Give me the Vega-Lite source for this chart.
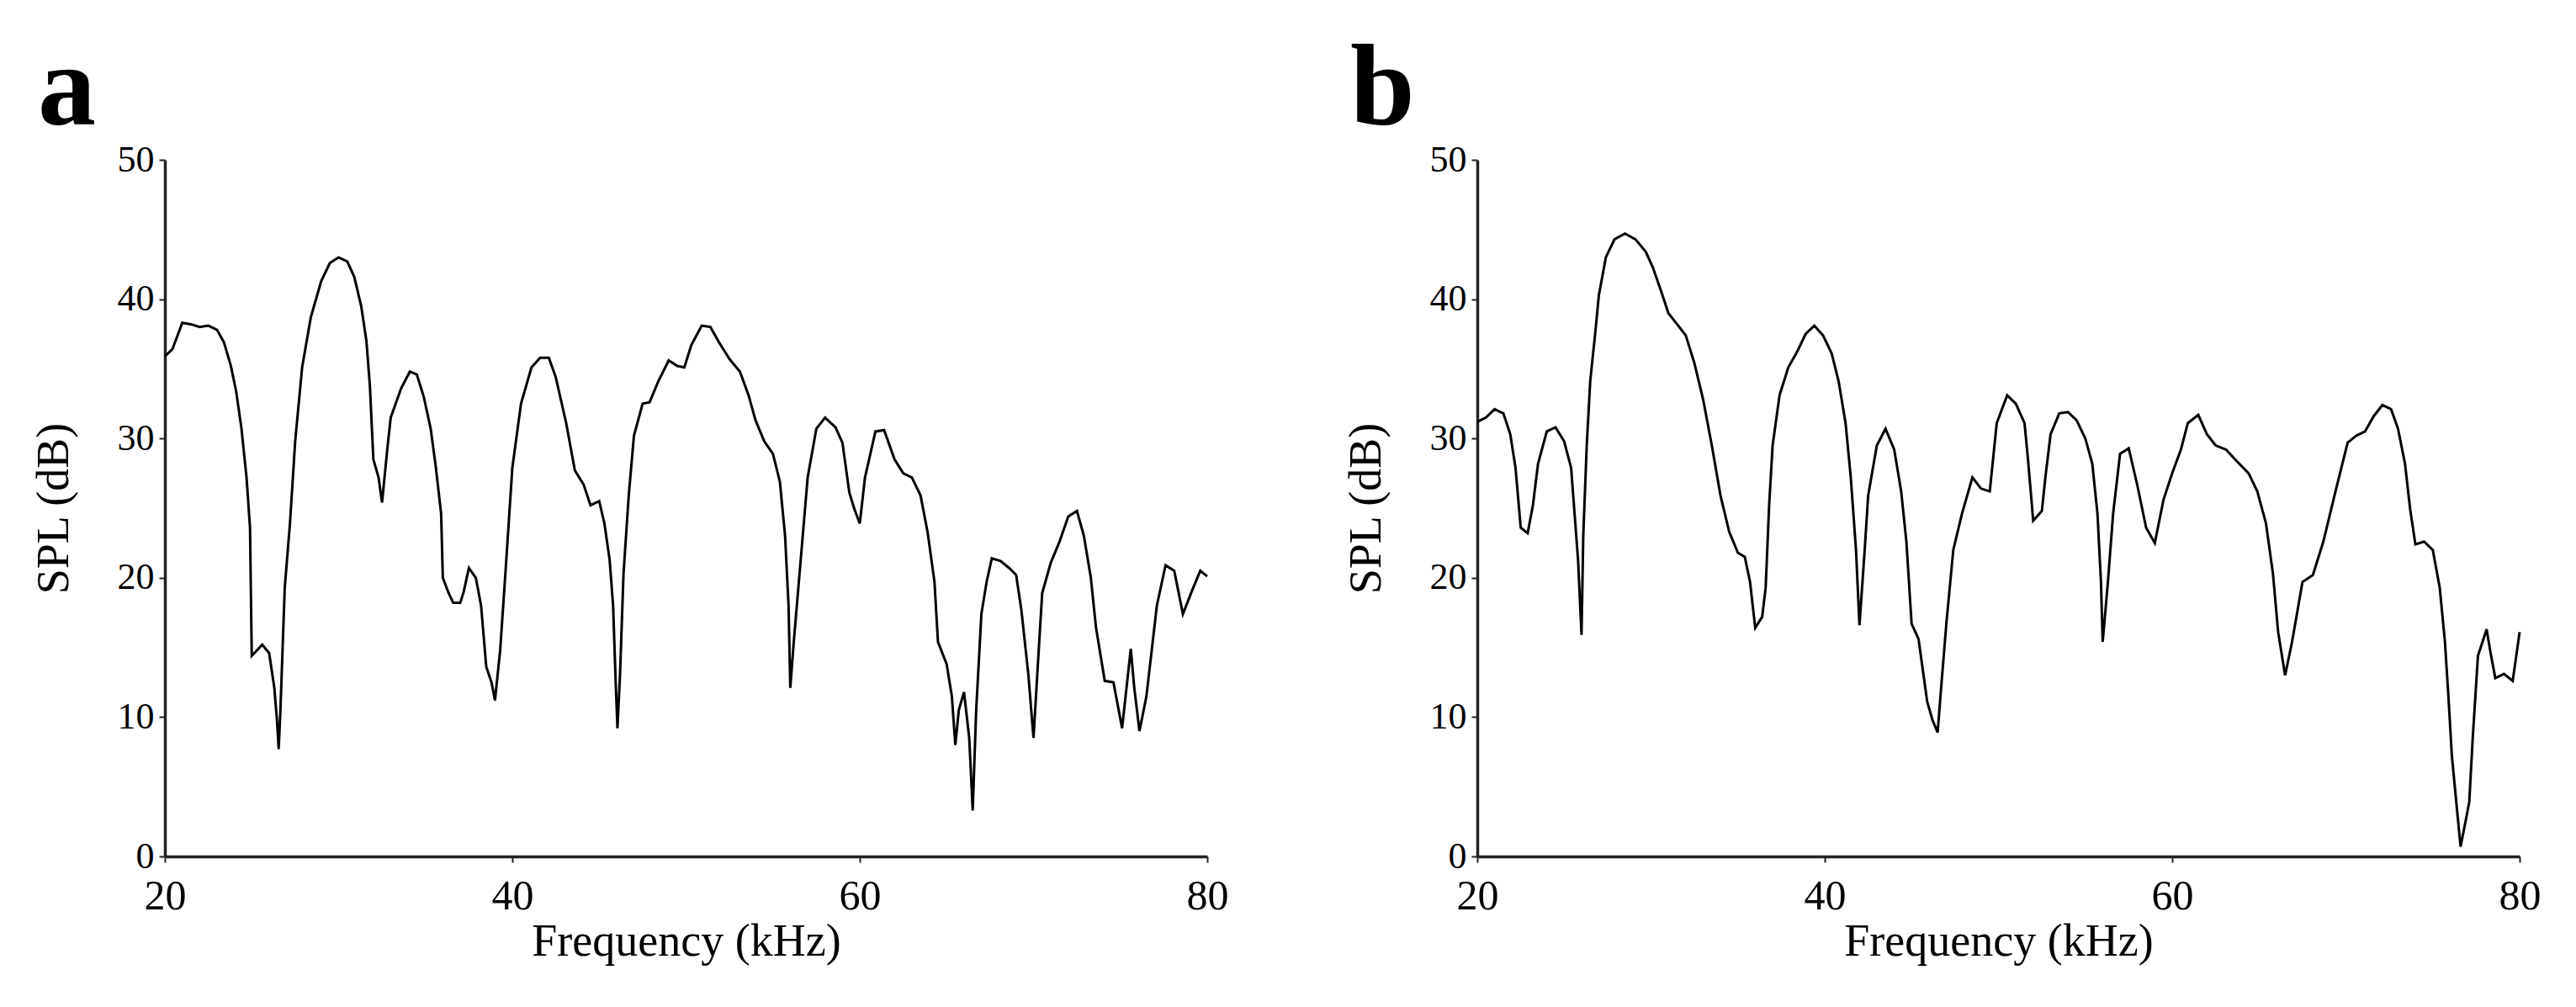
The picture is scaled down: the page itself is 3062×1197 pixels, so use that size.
{
  "$schema": "https://vega.github.io/schema/vega-lite/v6.json",
  "background": "white",
  "padding": {"left": 37, "top": 38, "right": 10, "bottom": 10},
  "spacing": 321,
  "bounds": "flush",
  "config": {
    "view": {"stroke": null},
    "font": "Liberation Serif",
    "axis": {
      "labelFont": "Liberation Serif",
      "titleFont": "Liberation Serif",
      "labelColor": "black",
      "titleColor": "black",
      "titleFontWeight": "normal",
      "domainColor": "#222",
      "tickColor": "#222",
      "grid": false
    }
  },
  "datasets": {
    "a": [
      {"frequency":20.0,"spl":35.9},{"frequency":20.43,"spl":36.4},{"frequency":21.0,"spl":38.3},{"frequency":21.5,"spl":38.2},{"frequency":22.0,"spl":38.0},{"frequency":22.5,"spl":38.1},{"frequency":23.0,"spl":37.8},{"frequency":23.4,"spl":36.9},{"frequency":23.8,"spl":35.2},{"frequency":24.1,"spl":33.4},{"frequency":24.4,"spl":30.8},{"frequency":24.7,"spl":27.2},{"frequency":24.9,"spl":23.6},{"frequency":25.0,"spl":14.4},{"frequency":25.3,"spl":14.8},{"frequency":25.6,"spl":15.2},{"frequency":26.0,"spl":14.6},{"frequency":26.3,"spl":12.1},{"frequency":26.45,"spl":9.8},{"frequency":26.55,"spl":7.7},{"frequency":26.65,"spl":10.5},{"frequency":26.9,"spl":19.3},{"frequency":27.2,"spl":23.9},{"frequency":27.5,"spl":29.8},{"frequency":27.9,"spl":35.1},{"frequency":28.4,"spl":38.7},{"frequency":29.0,"spl":41.3},{"frequency":29.5,"spl":42.6},{"frequency":30.0,"spl":43.0},{"frequency":30.5,"spl":42.7},{"frequency":30.9,"spl":41.6},{"frequency":31.3,"spl":39.5},{"frequency":31.6,"spl":37.0},{"frequency":31.8,"spl":33.8},{"frequency":32.0,"spl":28.5},{"frequency":32.3,"spl":27.2},{"frequency":32.5,"spl":25.4},{"frequency":32.8,"spl":29.2},{"frequency":33.0,"spl":31.5},{"frequency":33.6,"spl":33.6},{"frequency":34.1,"spl":34.8},{"frequency":34.5,"spl":34.6},{"frequency":34.9,"spl":33.0},{"frequency":35.3,"spl":30.7},{"frequency":35.6,"spl":27.9},{"frequency":35.9,"spl":24.6},{"frequency":36.0,"spl":20.0},{"frequency":36.3,"spl":19.0},{"frequency":36.6,"spl":18.2},{"frequency":37.0,"spl":18.2},{"frequency":37.2,"spl":19.0},{"frequency":37.5,"spl":20.7},{"frequency":37.9,"spl":20.0},{"frequency":38.2,"spl":18.0},{"frequency":38.5,"spl":13.6},{"frequency":38.8,"spl":12.5},{"frequency":39.0,"spl":11.2},{"frequency":39.3,"spl":14.8},{"frequency":39.6,"spl":20.3},{"frequency":40.0,"spl":27.9},{"frequency":40.5,"spl":32.5},{"frequency":41.1,"spl":35.1},{"frequency":41.6,"spl":35.8},{"frequency":42.1,"spl":35.8},{"frequency":42.5,"spl":34.4},{"frequency":43.1,"spl":31.1},{"frequency":43.6,"spl":27.7},{"frequency":44.1,"spl":26.7},{"frequency":44.5,"spl":25.2},{"frequency":45.0,"spl":25.5},{"frequency":45.3,"spl":23.9},{"frequency":45.6,"spl":21.3},{"frequency":45.8,"spl":18.0},{"frequency":45.95,"spl":12.5},{"frequency":46.05,"spl":9.2},{"frequency":46.2,"spl":13.1},{"frequency":46.4,"spl":20.3},{"frequency":46.7,"spl":25.9},{"frequency":47.0,"spl":30.2},{"frequency":47.5,"spl":32.5},{"frequency":47.9,"spl":32.6},{"frequency":48.4,"spl":34.1},{"frequency":49.0,"spl":35.6},{"frequency":49.5,"spl":35.2},{"frequency":49.9,"spl":35.1},{"frequency":50.3,"spl":36.7},{"frequency":50.9,"spl":38.1},{"frequency":51.4,"spl":38.0},{"frequency":51.9,"spl":36.9},{"frequency":52.5,"spl":35.7},{"frequency":53.1,"spl":34.8},{"frequency":53.6,"spl":33.1},{"frequency":54.0,"spl":31.3},{"frequency":54.5,"spl":29.8},{"frequency":55.0,"spl":28.9},{"frequency":55.4,"spl":26.9},{"frequency":55.7,"spl":23.0},{"frequency":55.9,"spl":18.0},{"frequency":56.0,"spl":12.1},{"frequency":56.2,"spl":15.4},{"frequency":56.6,"spl":21.3},{"frequency":57.0,"spl":27.2},{"frequency":57.5,"spl":30.7},{"frequency":58.0,"spl":31.5},{"frequency":58.6,"spl":30.8},{"frequency":59.0,"spl":29.7},{"frequency":59.4,"spl":26.1},{"frequency":59.7,"spl":24.9},{"frequency":60.0,"spl":23.9},{"frequency":60.3,"spl":27.2},{"frequency":60.9,"spl":30.5},{"frequency":61.4,"spl":30.6},{"frequency":62.0,"spl":28.5},{"frequency":62.5,"spl":27.5},{"frequency":63.0,"spl":27.2},{"frequency":63.5,"spl":25.9},{"frequency":63.9,"spl":23.3},{"frequency":64.3,"spl":19.7},{"frequency":64.5,"spl":15.4},{"frequency":65.0,"spl":13.8},{"frequency":65.3,"spl":11.5},{"frequency":65.5,"spl":8.0},{"frequency":65.7,"spl":10.5},{"frequency":66.0,"spl":11.8},{"frequency":66.3,"spl":8.5},{"frequency":66.5,"spl":3.3},{"frequency":66.7,"spl":10.5},{"frequency":67.0,"spl":17.4},{"frequency":67.3,"spl":19.7},{"frequency":67.6,"spl":21.4},{"frequency":68.1,"spl":21.2},{"frequency":68.6,"spl":20.7},{"frequency":69.0,"spl":20.2},{"frequency":69.3,"spl":17.7},{"frequency":69.7,"spl":13.1},{"frequency":70.0,"spl":8.5},{"frequency":70.3,"spl":14.8},{"frequency":70.5,"spl":18.9},{"frequency":71.0,"spl":21.1},{"frequency":71.5,"spl":22.6},{"frequency":72.0,"spl":24.4},{"frequency":72.5,"spl":24.8},{"frequency":72.9,"spl":23.0},{"frequency":73.3,"spl":20.0},{"frequency":73.6,"spl":16.4},{"frequency":74.1,"spl":12.6},{"frequency":74.6,"spl":12.5},{"frequency":75.1,"spl":9.2},{"frequency":75.3,"spl":11.5},{"frequency":75.6,"spl":14.9},{"frequency":75.8,"spl":12.1},{"frequency":76.1,"spl":9.0},{"frequency":76.5,"spl":11.5},{"frequency":77.1,"spl":18.0},{"frequency":77.6,"spl":20.9},{"frequency":78.1,"spl":20.5},{"frequency":78.6,"spl":17.4},{"frequency":79.1,"spl":19.0},{"frequency":79.6,"spl":20.5},{"frequency":80.0,"spl":20.1}
    ],
    "b": [
      {"frequency":20.0,"spl":31.2},{"frequency":20.5,"spl":31.5},{"frequency":21.0,"spl":32.1},{"frequency":21.5,"spl":31.8},{"frequency":21.9,"spl":30.3},{"frequency":22.2,"spl":27.9},{"frequency":22.5,"spl":23.6},{"frequency":22.9,"spl":23.2},{"frequency":23.2,"spl":25.2},{"frequency":23.5,"spl":28.2},{"frequency":24.0,"spl":30.5},{"frequency":24.5,"spl":30.8},{"frequency":25.0,"spl":29.8},{"frequency":25.4,"spl":27.9},{"frequency":25.6,"spl":24.6},{"frequency":25.8,"spl":21.3},{"frequency":26.0,"spl":15.9},{"frequency":26.1,"spl":23.0},{"frequency":26.3,"spl":29.5},{"frequency":26.5,"spl":34.1},{"frequency":26.8,"spl":37.7},{"frequency":27.0,"spl":40.3},{"frequency":27.4,"spl":43.0},{"frequency":27.9,"spl":44.3},{"frequency":28.5,"spl":44.7},{"frequency":29.1,"spl":44.3},{"frequency":29.7,"spl":43.4},{"frequency":30.1,"spl":42.3},{"frequency":30.6,"spl":40.5},{"frequency":31.0,"spl":39.0},{"frequency":31.5,"spl":38.2},{"frequency":32.0,"spl":37.4},{"frequency":32.5,"spl":35.4},{"frequency":33.0,"spl":32.8},{"frequency":33.5,"spl":29.5},{"frequency":34.0,"spl":25.9},{"frequency":34.5,"spl":23.3},{"frequency":35.0,"spl":21.8},{"frequency":35.4,"spl":21.5},{"frequency":35.7,"spl":19.7},{"frequency":36.0,"spl":16.4},{"frequency":36.4,"spl":17.2},{"frequency":36.6,"spl":19.3},{"frequency":36.8,"spl":25.2},{"frequency":37.0,"spl":29.5},{"frequency":37.4,"spl":33.1},{"frequency":37.9,"spl":35.1},{"frequency":38.4,"spl":36.2},{"frequency":38.9,"spl":37.5},{"frequency":39.4,"spl":38.1},{"frequency":39.9,"spl":37.4},{"frequency":40.4,"spl":36.1},{"frequency":40.8,"spl":34.1},{"frequency":41.2,"spl":31.1},{"frequency":41.5,"spl":27.2},{"frequency":41.8,"spl":22.0},{"frequency":42.0,"spl":16.6},{"frequency":42.3,"spl":22.0},{"frequency":42.5,"spl":25.9},{"frequency":43.0,"spl":29.5},{"frequency":43.5,"spl":30.7},{"frequency":44.0,"spl":29.2},{"frequency":44.4,"spl":26.2},{"frequency":44.7,"spl":22.6},{"frequency":45.0,"spl":16.7},{"frequency":45.4,"spl":15.6},{"frequency":45.6,"spl":13.8},{"frequency":45.9,"spl":11.1},{"frequency":46.2,"spl":9.8},{"frequency":46.5,"spl":8.9},{"frequency":46.7,"spl":12.1},{"frequency":47.0,"spl":16.7},{"frequency":47.4,"spl":22.0},{"frequency":47.9,"spl":24.6},{"frequency":48.5,"spl":27.2},{"frequency":49.0,"spl":26.4},{"frequency":49.5,"spl":26.2},{"frequency":49.9,"spl":31.1},{"frequency":50.5,"spl":33.1},{"frequency":51.0,"spl":32.5},{"frequency":51.5,"spl":31.1},{"frequency":51.7,"spl":28.5},{"frequency":52.0,"spl":24.1},{"frequency":52.5,"spl":24.8},{"frequency":52.7,"spl":27.2},{"frequency":53.0,"spl":30.3},{"frequency":53.5,"spl":31.8},{"frequency":54.0,"spl":31.9},{"frequency":54.5,"spl":31.3},{"frequency":55.0,"spl":30.0},{"frequency":55.4,"spl":28.2},{"frequency":55.7,"spl":24.6},{"frequency":55.9,"spl":19.7},{"frequency":56.0,"spl":15.4},{"frequency":56.3,"spl":19.7},{"frequency":56.6,"spl":24.6},{"frequency":57.0,"spl":28.9},{"frequency":57.5,"spl":29.3},{"frequency":58.0,"spl":26.6},{"frequency":58.5,"spl":23.6},{"frequency":59.0,"spl":22.5},{"frequency":59.5,"spl":25.6},{"frequency":60.0,"spl":27.5},{"frequency":60.5,"spl":29.2},{"frequency":60.9,"spl":31.1},{"frequency":61.5,"spl":31.7},{"frequency":62.0,"spl":30.3},{"frequency":62.5,"spl":29.5},{"frequency":63.1,"spl":29.2},{"frequency":63.7,"spl":28.4},{"frequency":64.4,"spl":27.5},{"frequency":64.9,"spl":26.2},{"frequency":65.4,"spl":23.9},{"frequency":65.8,"spl":20.3},{"frequency":66.1,"spl":16.1},{"frequency":66.5,"spl":13.0},{"frequency":66.9,"spl":15.4},{"frequency":67.5,"spl":19.7},{"frequency":68.1,"spl":20.2},{"frequency":68.7,"spl":22.6},{"frequency":69.4,"spl":26.2},{"frequency":70.1,"spl":29.7},{"frequency":70.6,"spl":30.2},{"frequency":71.1,"spl":30.5},{"frequency":71.6,"spl":31.6},{"frequency":72.1,"spl":32.4},{"frequency":72.6,"spl":32.1},{"frequency":73.0,"spl":30.7},{"frequency":73.4,"spl":28.2},{"frequency":73.7,"spl":24.9},{"frequency":74.0,"spl":22.4},{"frequency":74.5,"spl":22.6},{"frequency":75.0,"spl":22.0},{"frequency":75.4,"spl":19.3},{"frequency":75.7,"spl":15.4},{"frequency":75.9,"spl":11.5},{"frequency":76.1,"spl":7.2},{"frequency":76.4,"spl":3.3},{"frequency":76.6,"spl":0.7},{"frequency":76.9,"spl":2.6},{"frequency":77.1,"spl":3.9},{"frequency":77.3,"spl":8.5},{"frequency":77.6,"spl":14.4},{"frequency":78.1,"spl":16.3},{"frequency":78.3,"spl":14.8},{"frequency":78.6,"spl":12.8},{"frequency":79.1,"spl":13.1},{"frequency":79.6,"spl":12.6},{"frequency":80.0,"spl":16.1}
    ]
  },
  "hconcat": [
    {
      "width": 1239,
      "height": 828,
      "data": {"name": "a"},
      "title": {"text": "a", "font": "Liberation Serif", "fontSize": 138, "fontWeight": "bold", "color": "black", "anchor": "start", "frame": "group", "dx": -151, "offset": -9},
      "mark": {"type": "line", "color": "black", "strokeWidth": 3},
      "encoding": {
        "x": {"field": "frequency", "type": "quantitative", "scale": {"domain": [20, 80], "nice": false},
          "axis": {"values": [20, 40, 60, 80], "title": "Frequency (kHz)", "labelFontSize": 50, "titleFontSize": 54, "tickSize": 7, "tickWidth": 2, "domainWidth": 3.5, "labelPadding": 15, "titlePadding": 2, "labelFlush": false}},
        "y": {"field": "spl", "type": "quantitative", "scale": {"domain": [0, 50], "nice": false},
          "axis": {"values": [0, 10, 20, 30, 40, 50], "title": "SPL (dB)", "labelFontSize": 44, "titleFontSize": 54, "tickSize": 7, "tickWidth": 2, "domainWidth": 3.5, "labelPadding": 6, "titlePadding": 48, "labelFlush": false}}
      }
    },
    {
      "width": 1239,
      "height": 828,
      "data": {"name": "b"},
      "title": {"text": "b", "font": "Liberation Serif", "fontSize": 138, "fontWeight": "bold", "color": "black", "anchor": "start", "frame": "group", "dx": -151, "offset": -9},
      "mark": {"type": "line", "color": "black", "strokeWidth": 3},
      "encoding": {
        "x": {"field": "frequency", "type": "quantitative", "scale": {"domain": [20, 80], "nice": false},
          "axis": {"values": [20, 40, 60, 80], "title": "Frequency (kHz)", "labelFontSize": 50, "titleFontSize": 54, "tickSize": 7, "tickWidth": 2, "domainWidth": 3.5, "labelPadding": 15, "titlePadding": 2, "labelFlush": false}},
        "y": {"field": "spl", "type": "quantitative", "scale": {"domain": [0, 50], "nice": false},
          "axis": {"values": [0, 10, 20, 30, 40, 50], "title": "SPL (dB)", "labelFontSize": 44, "titleFontSize": 54, "tickSize": 7, "tickWidth": 2, "domainWidth": 3.5, "labelPadding": 6, "titlePadding": 48, "labelFlush": false}}
      }
    }
  ]
}
